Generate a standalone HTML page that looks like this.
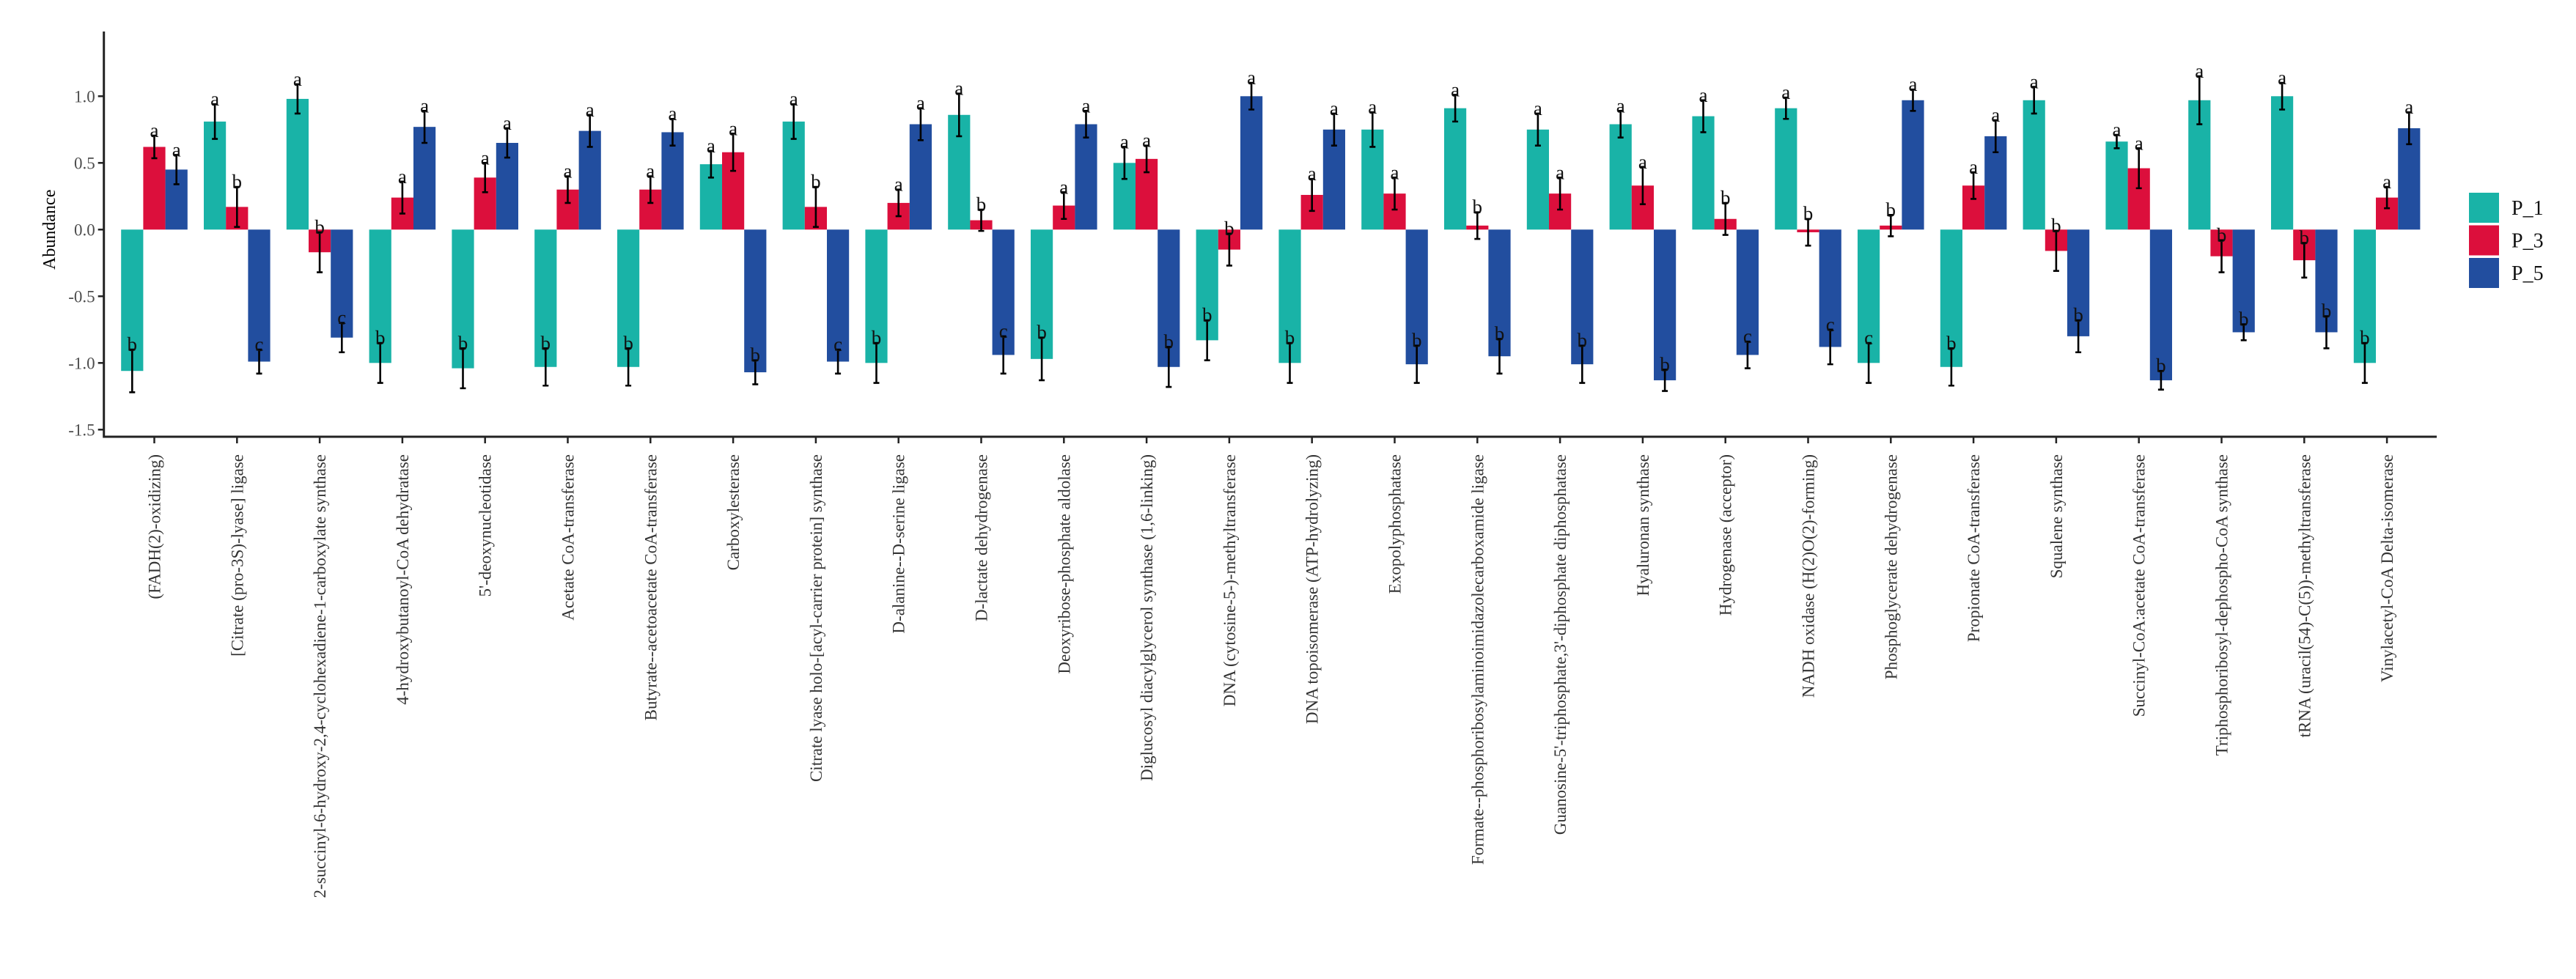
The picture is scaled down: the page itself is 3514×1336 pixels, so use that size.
<!DOCTYPE html>
<html><head><meta charset="utf-8"><style>
html,body{margin:0;padding:0;background:#fff;}
svg{display:block;font-family:"Liberation Serif",serif;}
</style></head><body>
<svg id="chart" width="3514" height="1336" viewBox="0 0 3514 1336" xmlns="http://www.w3.org/2000/svg">
<g id="bars"></g>
<g id="axes"></g>
<g id="legend"></g>
</svg>
<script>
const categories = ["(FADH(2)-oxidizing)","[Citrate (pro-3S)-lyase] ligase","2-succinyl-6-hydroxy-2,4-cyclohexadiene-1-carboxylate synthase","4-hydroxybutanoyl-CoA dehydratase","5'-deoxynucleotidase","Acetate CoA-transferase","Butyrate--acetoacetate CoA-transferase","Carboxylesterase","Citrate lyase holo-[acyl-carrier protein] synthase","D-alanine--D-serine ligase","D-lactate dehydrogenase","Deoxyribose-phosphate aldolase","Diglucosyl diacylglycerol synthase (1,6-linking)","DNA (cytosine-5-)-methyltransferase","DNA topoisomerase (ATP-hydrolyzing)","Exopolyphosphatase","Formate--phosphoribosylaminoimidazolecarboxamide ligase","Guanosine-5'-triphosphate,3'-diphosphate diphosphatase","Hyaluronan synthase","Hydrogenase (acceptor)","NADH oxidase (H(2)O(2)-forming)","Phosphoglycerate dehydrogenase","Propionate CoA-transferase","Squalene synthase","Succinyl-CoA:acetate CoA-transferase","Triphosphoribosyl-dephospho-CoA synthase","tRNA (uracil(54)-C(5))-methyltransferase","Vinylacetyl-CoA Delta-isomerase"];
const seriesNames = ["P_1","P_3","P_5"];
const p1 = [-1.06,0.81,0.98,-1.0,-1.04,-1.03,-1.03,0.49,0.81,-1.0,0.86,-0.97,0.50,-0.83,-1.0,0.75,0.91,0.75,0.79,0.85,0.91,-1.0,-1.03,0.97,0.66,0.97,1.0,-1.0];
const p3 = [0.62,0.17,-0.17,0.24,0.39,0.30,0.30,0.58,0.17,0.20,0.07,0.18,0.53,-0.15,0.26,0.27,0.03,0.27,0.33,0.08,-0.02,0.03,0.33,-0.16,0.46,-0.20,-0.23,0.24];
const p5 = [0.45,-0.99,-0.81,0.77,0.65,0.74,0.73,-1.07,-0.99,0.79,-0.94,0.79,-1.03,1.0,0.75,-1.01,-0.95,-1.01,-1.13,-0.94,-0.88,0.97,0.70,-0.80,-1.13,-0.77,-0.77,0.76];
const e1 = [0.16,0.13,0.11,0.15,0.15,0.14,0.14,0.10,0.13,0.15,0.16,0.16,0.12,0.15,0.15,0.13,0.10,0.12,0.10,0.12,0.08,0.15,0.14,0.10,0.05,0.18,0.10,0.15];
const e3 = [0.085,0.15,0.15,0.12,0.11,0.10,0.10,0.14,0.15,0.10,0.08,0.10,0.10,0.12,0.12,0.12,0.10,0.12,0.14,0.12,0.10,0.08,0.10,0.15,0.15,0.12,0.13,0.08];
const e5 = [0.11,0.09,0.11,0.12,0.11,0.12,0.10,0.09,0.09,0.12,0.14,0.10,0.15,0.10,0.12,0.14,0.13,0.14,0.08,0.10,0.13,0.08,0.12,0.12,0.07,0.06,0.12,0.12];
const l1 = ["b","a","a","b","b","b","b","a","a","b","a","b","a","b","b","a","a","a","a","a","a","c","b","a","a","a","a","b"];
const l3 = ["a","b","b","a","a","a","a","a","b","a","b","a","a","b","a","a","b","a","a","b","b","b","a","b","a","b","b","a"];
const l5 = ["a","c","c","a","a","a","a","b","c","a","c","a","b","a","a","b","b","b","b","c","c","a","a","b","b","b","b","a"];
const yTicks = [-1.5,-1.0,-0.5,0.0,0.5,1.0];
const yTickLabels = ["-1.5","-1.0","-0.5","0.0","0.5","1.0"];

const NS="http://www.w3.org/2000/svg";
const colors=["#19b3a7","#dc0f3c","#224e9f"];
const X0=141.7, X1=3324, YTOP=43, YBOT=596;
const firstC=210.5, step=112.8, bw=30.2;
const y=v=>313.3-v*182;
const xc=i=>firstC+i*step;
function mk(tag,attrs,parent){const e=document.createElementNS(NS,tag);for(const k in attrs)e.setAttribute(k,attrs[k]);parent.appendChild(e);return e;}
const gB=document.getElementById('bars'),gA=document.getElementById('axes'),gL=document.getElementById('legend');
const vals=[p1,p3,p5],errs=[e1,e3,e5],lets=[l1,l3,l5];
categories.forEach((c,i)=>{
  for(let s=0;s<3;s++){
    const v=vals[s][i],er=errs[s][i];
    const bx=xc(i)+(s-1.5)*bw;
    const r=mk('rect',{x:bx,y:Math.min(y(v),y(0)),width:bw,height:Math.abs(y(v)-y(0)),fill:colors[s]},gB);
    
    
    const cx=bx+bw/2;
    const eb=mk('path',{d:`M${cx},${y(v+er)}V${y(v-er)}M${cx-4},${y(v+er)}H${cx+4}M${cx-4},${y(v-er)}H${cx+4}`,stroke:'#000','stroke-width':2.6,fill:'none'},gB);
    
    
    const t=mk('text',{x:cx,y:y(v+er)+2,'text-anchor':'middle','font-size':27,fill:'#111'},gB);
    t.textContent=lets[s][i];
    
    
  }
  const tk=mk('line',{x1:xc(i),x2:xc(i),y1:YBOT,y2:YBOT+9,stroke:'#222','stroke-width':2.5},gA);
  
  
  const lb=mk('text',{x:0,y:0,'text-anchor':'end','font-size':23,fill:'#333',transform:`translate(${xc(i)+8},${YBOT+24}) rotate(-90)`},gA);
  lb.textContent=c;
  
  
});
yTicks.forEach((v,k)=>{
  const tk=mk('line',{x1:X0-8,x2:X0,y1:y(v),y2:y(v),stroke:'#222','stroke-width':2.5},gA);
  
  
  const t=mk('text',{x:X0-12,y:y(v)+8,'text-anchor':'end','font-size':23,fill:'#4d4d4d'},gA);
  t.textContent=yTickLabels[k];
  
  
});
const ax=mk('path',{d:`M${X0},${YTOP}V${YBOT}H${X1}`,stroke:'#222','stroke-width':3,fill:'none'},gA);


const yt=mk('text',{x:0,y:0,'text-anchor':'middle','font-size':24,fill:'#000',transform:`translate(75,${y(0)}) rotate(-90)`},gA);
yt.textContent='Abundance';


seriesNames.forEach((n,s)=>{
  const ky=263+s*44.5;
  const r=mk('rect',{x:3368,y:ky,width:41,height:41,fill:colors[s]},gL);
  
  
  const t=mk('text',{x:3426,y:ky+30,'font-size':28,fill:'#111'},gL);
  t.textContent=n;
  
  
});
</script>
</body></html>
